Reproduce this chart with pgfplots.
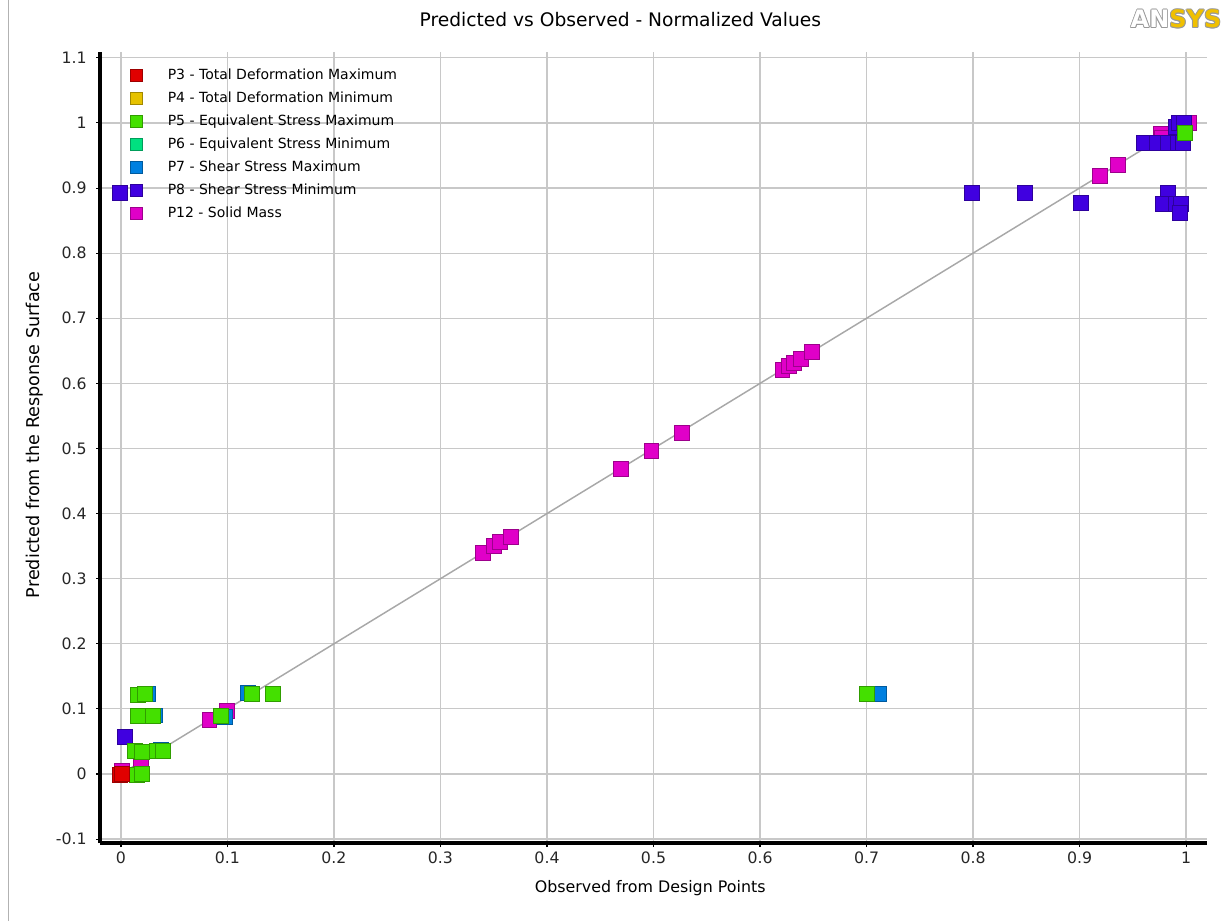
\documentclass[border=0pt]{standalone}
\usepackage{fontspec}
\setmainfont{DejaVu Sans}
\usepackage{pgfplots}
\pgfplotsset{compat=1.18}
\definecolor{cpiii}{HTML}{E00000}
\definecolor{cpiv}{HTML}{E6C200}
\definecolor{cpv}{HTML}{44E000}
\definecolor{cpvi}{HTML}{00E080}
\definecolor{cpvii}{HTML}{0080E0}
\definecolor{cpviii}{HTML}{4000E0}
\definecolor{cpxii}{HTML}{E000C8}
\definecolor{gridgray}{HTML}{C8C8C8}
\definecolor{diaggray}{HTML}{A8A8A8}
\definecolor{ansysgold}{HTML}{F0C000}

\pgfplotsset{
  sq/.style={only marks, mark=square*, mark size=5.6pt,
    mark options={fill=#1, draw=#1!70!black, line width=0.6pt}},
}

\begin{document}
\begin{tikzpicture}
\path[use as bounding box] (0,0) rectangle (919.5pt,690.75pt);
\draw[gray!60, line width=0.75pt] (6pt,0) -- (6pt,690.75pt);
% logo: outlined letters
\foreach \dx/\dy in {-0.7/0,0.7/0,0/-0.7,0/0.7,-0.5/-0.5,0.5/0.5,-0.5/0.5,0.5/-0.5}{
  \node[font=\fontsize{18}{18}\selectfont\bfseries, inner sep=0pt, text=gray!80] at (882pt+\dx pt,676.5pt+\dy pt) {ANSYS};
}
\node[font=\fontsize{18}{18}\selectfont\bfseries, inner sep=0pt] at (882pt,676.5pt)
  {\textcolor{white}{AN}\textcolor{ansysgold}{SYS}};
\begin{axis}[
  at={(75pt,58.5pt)}, anchor=south west,
  scale only axis, width=830.25pt, height=593.25pt,
  xmin=-0.0197, xmax=1.0197, ymin=-0.106, ymax=1.109,
  axis x line*=bottom, axis y line*=left,
  axis line style={line width=3pt, black, -},
  x axis line style={-}, y axis line style={-},
  xtick={0,0.1,0.2,0.3,0.4,0.5,0.6,0.7,0.8,0.9,1},
  ytick={-0.1,0,0.1,0.2,0.3,0.4,0.5,0.6,0.7,0.8,0.9,1,1.1},
  grid=major, grid style={gridgray, line width=0.9pt},
  tick align=outside, major tick length=3pt,
  tick style={black, line width=0.8pt},
  /pgf/number format/assume math mode=true,
  /pgf/number format/fixed,
  ticklabel style={font=\fontsize{11.8}{13}\selectfont, text=black!85},
  yticklabel style={xshift=-3.5pt},
  title={Predicted vs Observed - Normalized Values},
  title style={font=\fontsize{14}{16}\selectfont, at={(axis description cs:0.47,1.0305)}, anchor=center},
  xlabel={Observed from Design Points},
  ylabel={Predicted from the Response Surface},
  xlabel style={font=\fontsize{11.9}{13}\selectfont, at={(axis description cs:0.497,-0.0569)}, anchor=center},
  ylabel style={font=\fontsize{13.2}{14}\selectfont, at={(axis description cs:-0.0587,0.516)}, anchor=center},
  legend image code/.code={\path (0pt,0pt) (27.75pt,0pt); \draw plot coordinates {(4.5pt,0pt)};},
  legend image post style={mark size=4.5pt},
  reverse legend,
  legend cell align=left,
  legend style={at={(axis description cs:0.0271,0.9855)}, anchor=north west,
    draw=none, fill=none, inner sep=0pt, row sep=0pt, column sep=0pt,
    font=\fontsize{10.5}{12}\selectfont,
    nodes={inner sep=0pt, text height=12pt, text depth=5.25pt}},
]
% P12 - Solid Mass
\addplot[sq=cpxii] coordinates {
  (0.001,0.005)(0.019,0.018)(0.083,0.083)(0.0995,0.097)
  (0.340,0.339)(0.350,0.350)(0.356,0.356)(0.366,0.364)
  (0.469,0.468)(0.498,0.496)(0.527,0.524)
  (0.621,0.621)(0.627,0.627)(0.632,0.631)(0.638,0.637)(0.649,0.648)
  (0.919,0.919)(0.936,0.935)(0.976,0.983)(0.977,0.977)(1.0,1.0)(1.003,1.0)
};
\addlegendentry{P12 - Solid Mass}
% P8 - Shear Stress Minimum
\addplot[sq=cpviii] coordinates {
  (-0.001,0.893)(0.004,0.057)(0.799,0.893)(0.849,0.893)(0.901,0.877)
  (0.983,0.892)(0.978,0.876)(0.990,0.876)(0.995,0.876)(0.994,0.862)
  (0.960,0.970)(0.973,0.970)(0.983,0.970)(0.992,0.970)(0.997,0.970)
  (0.990,0.994)(0.993,1.000)(0.998,1.000)
};
\addlegendentry{P8 - Shear Stress Minimum}
% P7 - Shear Stress Maximum
\addplot[sq=cpvii] coordinates {
  (0.712,0.123)(0.119,0.124)(0.098,0.088)
  (0.025,0.123)(0.032,0.090)(0.0375,0.037)
};
\addlegendentry{P7 - Shear Stress Maximum}
% P6 - Equivalent Stress Minimum (hidden behind P5)
\addlegendimage{sq=cpvi}
\addlegendentry{P6 - Equivalent Stress Minimum}
% P5 - Equivalent Stress Maximum
\addplot[sq=cpv] coordinates {
  (0.999,0.985)(0.700,0.123)(0.123,0.123)(0.143,0.123)(0.094,0.089)
  (0.016,0.121)(0.0225,0.123)(0.016,0.089)(0.030,0.089)
  (0.013,0.035)(0.020,0.034)(0.034,0.035)(0.039,0.035)
  (0.015,-0.001)(0.020,0.0)
};
\addlegendentry{P5 - Equivalent Stress Maximum}
% P4 - Total Deformation Minimum (hidden behind P3)
\addlegendimage{sq=cpiv}
\addlegendentry{P4 - Total Deformation Minimum}
% P3 - Total Deformation Maximum
\addplot[sq=cpiii] coordinates {(-0.001,-0.001)(0.001,0.0)};
\addlegendentry{P3 - Total Deformation Maximum}
% diagonal
\addplot[diaggray, line width=1.1pt, forget plot] coordinates {(0,0)(1,1)};
\end{axis}
\end{tikzpicture}
\end{document}
